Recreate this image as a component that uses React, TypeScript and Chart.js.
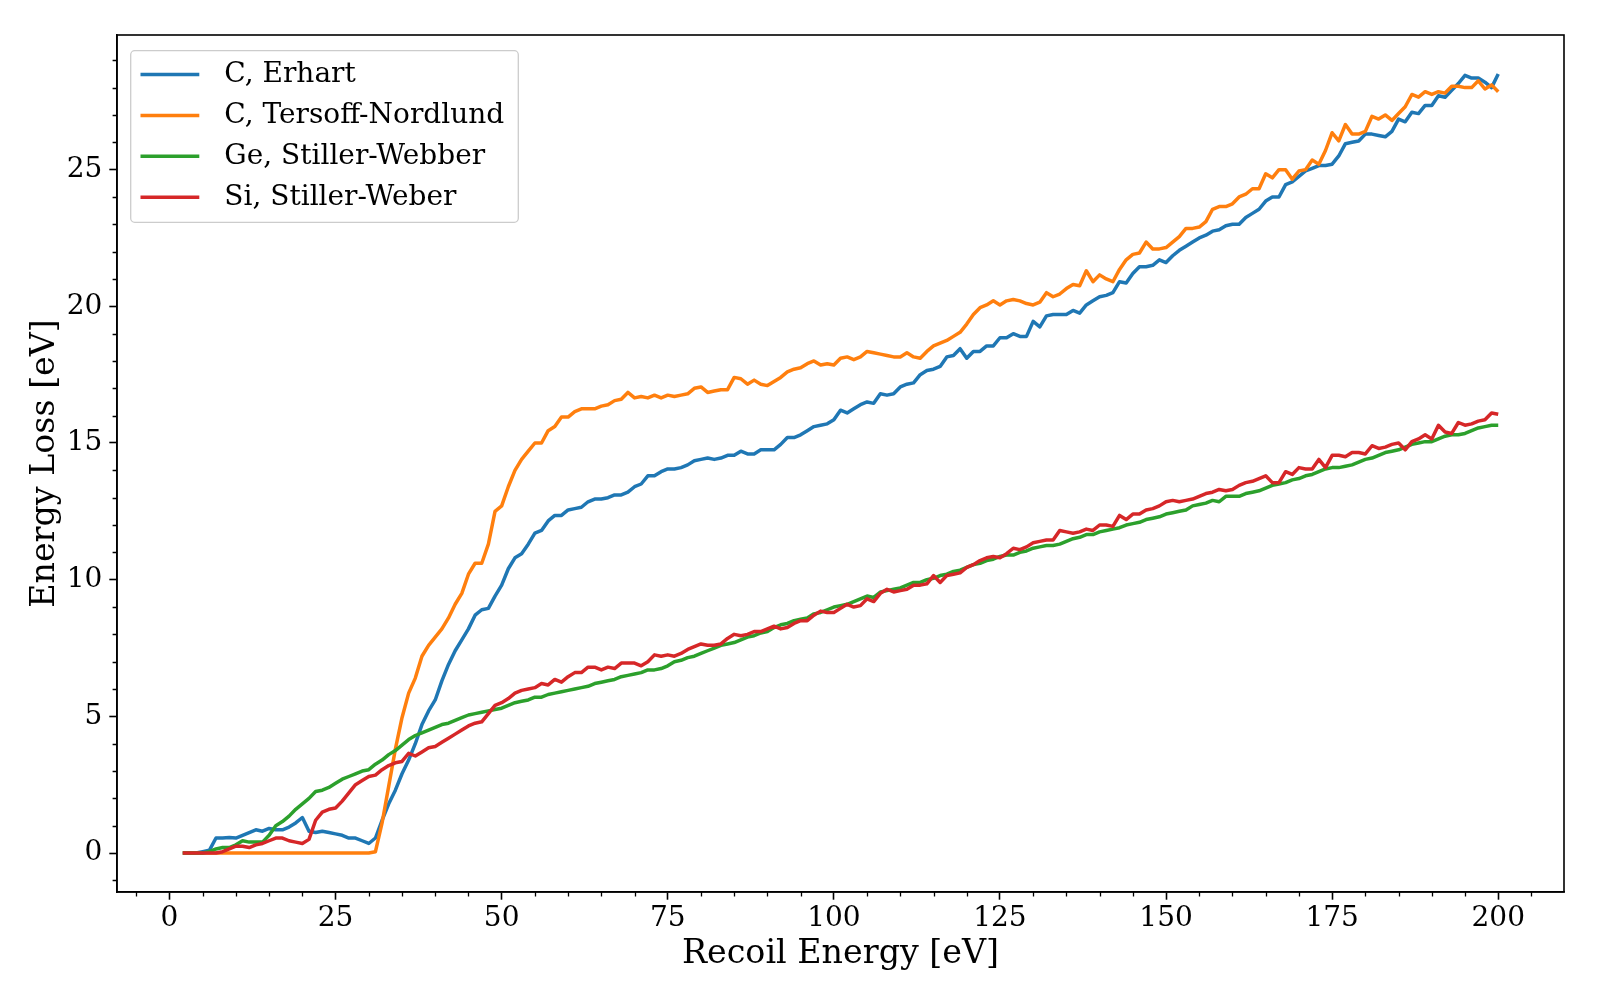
import { useEffect, useRef } from 'react';
import { Chart, registerables } from 'chart.js';

Chart.register(...registerables);

const FONT = '"DejaVu Serif", serif';

const recoilEnergy = [
  2, 3, 4, 5, 6, 7, 8, 9,
  10, 11, 12, 13, 14, 15, 16, 17, 18, 19,
  20, 21, 22, 23, 24, 25, 26, 27, 28, 29,
  30, 31, 32, 33, 34, 35, 36, 37, 38, 39,
  40, 41, 42, 43, 44, 45, 46, 47, 48, 49,
  50, 51, 52, 53, 54, 55, 56, 57, 58, 59,
  60, 61, 62, 63, 64, 65, 66, 67, 68, 69,
  70, 71, 72, 73, 74, 75, 76, 77, 78, 79,
  80, 81, 82, 83, 84, 85, 86, 87, 88, 89,
  90, 91, 92, 93, 94, 95, 96, 97, 98, 99,
  100, 101, 102, 103, 104, 105, 106, 107, 108, 109,
  110, 111, 112, 113, 114, 115, 116, 117, 118, 119,
  120, 121, 122, 123, 124, 125, 126, 127, 128, 129,
  130, 131, 132, 133, 134, 135, 136, 137, 138, 139,
  140, 141, 142, 143, 144, 145, 146, 147, 148, 149,
  150, 151, 152, 153, 154, 155, 156, 157, 158, 159,
  160, 161, 162, 163, 164, 165, 166, 167, 168, 169,
  170, 171, 172, 173, 174, 175, 176, 177, 178, 179,
  180, 181, 182, 183, 184, 185, 186, 187, 188, 189,
  190, 191, 192, 193, 194, 195, 196, 197, 198, 199,
  200,
];

const cErhart = [
  0, 0, 0, 0.05, 0.1, 0.55, 0.55, 0.57,
  0.55, 0.65, 0.75, 0.85, 0.8, 0.9, 0.85, 0.85, 0.95, 1.1,
  1.3, 0.8, 0.75, 0.8, 0.75, 0.7, 0.65, 0.55, 0.55, 0.45,
  0.35, 0.55, 1.2, 1.8, 2.3, 2.9, 3.4, 4.0, 4.7, 5.2,
  5.6, 6.3, 6.9, 7.4, 7.8, 8.2, 8.7, 8.9, 8.95, 9.4,
  9.8, 10.4, 10.8, 10.95, 11.3, 11.7, 11.8, 12.15, 12.35, 12.35,
  12.55, 12.6, 12.65, 12.85, 12.95, 12.95, 13.0, 13.1, 13.1, 13.2,
  13.4, 13.5, 13.8, 13.8, 13.95, 14.05, 14.05, 14.1, 14.2, 14.35,
  14.4, 14.45, 14.4, 14.45, 14.55, 14.55, 14.7, 14.6, 14.6, 14.75,
  14.75, 14.75, 14.95, 15.2, 15.2, 15.3, 15.45, 15.6, 15.65, 15.7,
  15.85, 16.2, 16.1, 16.25, 16.4, 16.5, 16.45, 16.8, 16.75, 16.8,
  17.05, 17.15, 17.2, 17.5, 17.65, 17.7, 17.8, 18.15, 18.2, 18.45,
  18.1, 18.35, 18.35, 18.55, 18.55, 18.85, 18.85, 19.0, 18.9, 18.9,
  19.45, 19.25, 19.65, 19.7, 19.7, 19.7, 19.85, 19.75, 20.05, 20.2,
  20.35, 20.4, 20.5, 20.9, 20.85, 21.2, 21.45, 21.45, 21.5, 21.7,
  21.6, 21.85, 22.05, 22.2, 22.35, 22.5, 22.6, 22.75, 22.8, 22.95,
  23.0, 23.0, 23.25, 23.4, 23.55, 23.85, 24.0, 24.0, 24.45, 24.55,
  24.75, 24.95, 25.05, 25.15, 25.15, 25.2, 25.5, 25.95, 26.0, 26.05,
  26.3, 26.3, 26.25, 26.2, 26.4, 26.85, 26.75, 27.1, 27.05, 27.35,
  27.35, 27.7, 27.65, 27.9, 28.15, 28.45, 28.35, 28.35, 28.2, 28.0,
  28.5,
];

const cTersoffNordlund = [
  0, 0, 0, 0, 0, 0, 0, 0,
  0, 0, 0, 0, 0, 0, 0, 0, 0, 0,
  0, 0, 0, 0, 0, 0, 0, 0, 0, 0,
  0, 0.05, 1.1, 2.45, 3.8, 4.95, 5.85, 6.4, 7.2, 7.6,
  7.9, 8.2, 8.6, 9.1, 9.5, 10.2, 10.6, 10.6, 11.3, 12.5,
  12.7, 13.4, 14.0, 14.4, 14.7, 15.0, 15.0, 15.45, 15.6, 15.95,
  15.95, 16.15, 16.25, 16.25, 16.25, 16.35, 16.4, 16.55, 16.6, 16.85,
  16.65, 16.7, 16.65, 16.75, 16.65, 16.75, 16.7, 16.75, 16.8, 17.0,
  17.05, 16.85, 16.9, 16.95, 16.95, 17.4, 17.35, 17.15, 17.3, 17.15,
  17.1, 17.25, 17.4, 17.6, 17.7, 17.75, 17.9, 18.0, 17.85, 17.9,
  17.85, 18.1, 18.15, 18.05, 18.15, 18.35, 18.3, 18.25, 18.2, 18.15,
  18.15, 18.3, 18.15, 18.1, 18.35, 18.55, 18.65, 18.75, 18.9, 19.05,
  19.35, 19.7, 19.95, 20.05, 20.2, 20.05, 20.2, 20.25, 20.2, 20.1,
  20.05, 20.15, 20.5, 20.35, 20.45, 20.65, 20.8, 20.75, 21.3, 20.9,
  21.15, 21.0, 20.9, 21.35, 21.7, 21.9, 21.95, 22.35, 22.1, 22.1,
  22.15, 22.35, 22.55, 22.85, 22.85, 22.9, 23.1, 23.55, 23.65, 23.65,
  23.75, 24.0, 24.1, 24.3, 24.3, 24.85, 24.7, 25.0, 25.0, 24.65,
  24.95, 25.0, 25.35, 25.2, 25.7, 26.35, 26.05, 26.65, 26.3, 26.3,
  26.4, 26.95, 26.85, 27.0, 26.8, 27.05, 27.3, 27.75, 27.65, 27.85,
  27.75, 27.85, 27.8, 28.05, 28.05, 28.0, 28.0, 28.25, 27.95, 28.1,
  27.85,
];

const geStillerWebber = [
  0, 0, 0, 0, 0.05, 0.15, 0.2, 0.2,
  0.3, 0.45, 0.4, 0.4, 0.4, 0.65, 1.0, 1.15, 1.35, 1.6,
  1.8, 2.0, 2.25, 2.3, 2.4, 2.55, 2.7, 2.8, 2.9, 3.0,
  3.05, 3.25, 3.4, 3.6, 3.75, 3.95, 4.15, 4.3, 4.4, 4.5,
  4.6, 4.7, 4.75, 4.85, 4.95, 5.05, 5.1, 5.15, 5.2, 5.25,
  5.3, 5.4, 5.5, 5.55, 5.6, 5.7, 5.7, 5.8, 5.85, 5.9,
  5.95, 6.0, 6.05, 6.1, 6.2, 6.25, 6.3, 6.35, 6.45, 6.5,
  6.55, 6.6, 6.7, 6.7, 6.75, 6.85, 7.0, 7.05, 7.15, 7.2,
  7.3, 7.4, 7.5, 7.6, 7.65, 7.7, 7.8, 7.9, 7.95, 8.05,
  8.1, 8.25, 8.35, 8.4, 8.5, 8.55, 8.6, 8.75, 8.8, 8.9,
  9.0, 9.05, 9.1, 9.2, 9.3, 9.4, 9.35, 9.55, 9.6, 9.65,
  9.7, 9.8, 9.9, 9.9, 10.0, 10.05, 10.15, 10.2, 10.3, 10.35,
  10.45, 10.55, 10.6, 10.7, 10.75, 10.85, 10.9, 10.9, 11.0, 11.05,
  11.15, 11.2, 11.25, 11.25, 11.3, 11.4, 11.5, 11.55, 11.65, 11.65,
  11.75, 11.8, 11.85, 11.9, 12.0, 12.05, 12.1, 12.2, 12.25, 12.3,
  12.4, 12.45, 12.5, 12.55, 12.7, 12.75, 12.8, 12.9, 12.85, 13.05,
  13.05, 13.05, 13.15, 13.2, 13.25, 13.35, 13.45, 13.5, 13.55, 13.65,
  13.7, 13.8, 13.85, 13.95, 14.05, 14.1, 14.1, 14.15, 14.2, 14.3,
  14.4, 14.45, 14.55, 14.65, 14.7, 14.75, 14.85, 14.95, 15.0, 15.05,
  15.05, 15.15, 15.25, 15.3, 15.3, 15.35, 15.45, 15.55, 15.6, 15.65,
  15.65,
];

const siStillerWeber = [
  0, 0, 0, 0, 0, 0, 0.05, 0.15,
  0.25, 0.25, 0.2, 0.3, 0.35, 0.45, 0.55, 0.55, 0.45, 0.4,
  0.35, 0.5, 1.2, 1.5, 1.6, 1.65, 1.9, 2.2, 2.5, 2.65,
  2.8, 2.85, 3.05, 3.2, 3.3, 3.35, 3.65, 3.55, 3.7, 3.85,
  3.9, 4.05, 4.2, 4.35, 4.5, 4.65, 4.75, 4.8, 5.1, 5.4,
  5.5, 5.65, 5.85, 5.95, 6.0, 6.05, 6.2, 6.15, 6.35, 6.25,
  6.45, 6.6, 6.6, 6.8, 6.8, 6.7, 6.8, 6.75, 6.95, 6.95,
  6.95, 6.85, 7.0, 7.25, 7.2, 7.25, 7.2, 7.3, 7.45, 7.55,
  7.65, 7.6, 7.6, 7.65, 7.85, 8.0, 7.95, 8.0, 8.1, 8.1,
  8.2, 8.3, 8.2, 8.25, 8.4, 8.5, 8.5, 8.7, 8.85, 8.8,
  8.8, 8.95, 9.1, 9.0, 9.05, 9.3, 9.2, 9.5, 9.65, 9.55,
  9.6, 9.65, 9.8, 9.8, 9.85, 10.15, 9.9, 10.15, 10.2, 10.25,
  10.45, 10.55, 10.7, 10.8, 10.85, 10.8, 10.95, 11.15, 11.1, 11.2,
  11.35, 11.4, 11.45, 11.45, 11.8, 11.75, 11.7, 11.75, 11.85, 11.8,
  12.0, 12.0, 11.95, 12.35, 12.2, 12.4, 12.4, 12.55, 12.6, 12.7,
  12.85, 12.9, 12.85, 12.9, 12.95, 13.05, 13.15, 13.2, 13.3, 13.25,
  13.3, 13.45, 13.55, 13.6, 13.7, 13.8, 13.55, 13.55, 13.95, 13.85,
  14.1, 14.05, 14.05, 14.4, 14.1, 14.55, 14.55, 14.5, 14.65, 14.65,
  14.6, 14.9, 14.8, 14.85, 14.95, 15.0, 14.75, 15.05, 15.15, 15.3,
  15.15, 15.65, 15.4, 15.35, 15.75, 15.65, 15.7, 15.8, 15.85, 16.1,
  16.05,
];

const seriesLabels = ['C, Erhart', 'C, Tersoff-Nordlund', 'Ge, Stiller-Webber', 'Si, Stiller-Weber'];
const seriesColors = ['#1f77b4', '#ff7f0e', '#2ca02c', '#d62728'];
const xTickValues = [0, 25, 50, 75, 100, 125, 150, 175, 200];
const yTickValues = [0, 5, 10, 15, 20, 25];
const xMinorTicks = [-5, 5, 10, 15, 20, 30, 35, 40, 45, 55, 60, 65, 70, 80, 85, 90, 95, 105, 110, 115, 120, 130, 135, 140, 145, 155, 160, 165, 170, 180, 185, 190, 195, 205];
const yMinorTicks = [-1, 1, 2, 3, 4, 6, 7, 8, 9, 11, 12, 13, 14, 16, 17, 18, 19, 21, 22, 23, 24, 26, 27, 28, 29];

const frameAndExtras = {
  id: 'frameAndExtras',
  afterDraw(chart: any) {
    const { ctx, chartArea } = chart;
    const xs = chart.scales.x;
    const ys = chart.scales.y;
    ctx.save();
    ctx.strokeStyle = '#000';
    ctx.lineWidth = 1.6;
    ctx.strokeRect(chartArea.left, chartArea.top, chartArea.right - chartArea.left, chartArea.bottom - chartArea.top);
    ctx.lineWidth = 1.3;
    ctx.beginPath();
    xMinorTicks.forEach((v) => {
      if (v < xs.min || v > xs.max) return;
      const px = Math.round(xs.getPixelForValue(v)) + 0.5;
      ctx.moveTo(px, chartArea.bottom);
      ctx.lineTo(px, chartArea.bottom + 4.4);
    });
    yMinorTicks.forEach((v) => {
      if (v < ys.min || v > ys.max) return;
      const py = Math.round(ys.getPixelForValue(v)) + 0.5;
      ctx.moveTo(chartArea.left, py);
      ctx.lineTo(chartArea.left - 4.4, py);
    });
    ctx.stroke();

    // legend
    const bx = 130.7, by = 50.7, bw = 387.6, bh = 171.6;
    ctx.beginPath();
    ctx.roundRect(bx, by, bw, bh, 4);
    ctx.fillStyle = 'rgba(255,255,255,0.8)';
    ctx.fill();
    ctx.strokeStyle = '#cccccc';
    ctx.lineWidth = 1.3;
    ctx.stroke();
    ctx.font = `28px ${FONT}`;
    ctx.textBaseline = 'middle';
    ctx.textAlign = 'left';
    chart.data.datasets.forEach((ds: any, i: number) => {
      const ry = 74.5 + i * 40.9;
      ctx.strokeStyle = ds.borderColor;
      ctx.lineWidth = 3.5;
      ctx.beginPath();
      ctx.moveTo(140.5, ry);
      ctx.lineTo(199.3, ry);
      ctx.stroke();
      ctx.fillStyle = '#000';
      ctx.fillText(ds.label, 224.3, ry + 0.5);
    });
    ctx.restore();
  },
};

export default function App() {
  const ref = useRef<HTMLCanvasElement | null>(null);
  useEffect(() => {
    document.body.style.margin = '0';
    const canvas = ref.current;
    if (!canvas) return;
    const all = [cErhart, cTersoffNordlund, geStillerWebber, siStillerWeber];
    const datasets = all.map((vals, i) => ({
      label: seriesLabels[i],
      data: recoilEnergy.map((e, j) => ({ x: e, y: vals[j] })),
      borderColor: seriesColors[i],
      backgroundColor: seriesColors[i],
      borderWidth: 3.5,
      pointRadius: 0,
      tension: 0,
      fill: false,
      borderJoinStyle: 'round' as const,
      order: 4 - i,
    }));
    const chart = new Chart(canvas, {
      type: 'line',
      data: { datasets },
      plugins: [frameAndExtras],
      options: {
        animation: false,
        responsive: false,
        devicePixelRatio: 1,
        layout: { padding: { left: 0, right: 36, top: 35, bottom: 0 } },
        plugins: { legend: { display: false }, tooltip: { enabled: false } },
        scales: {
          x: {
            type: 'linear',
            min: -7.9,
            max: 209.9,
            afterBuildTicks: (s: any) => {
              s.ticks = xTickValues.map((v) => ({ value: v }));
            },
            afterFit: (s: any) => {
              s.height = 108;
            },
            ticks: {
              font: { family: FONT, size: 28 },
              color: '#000',
              padding: 2,
              maxRotation: 0,
              autoSkip: false,
              callback: (v: any) => String(v),
            },
            grid: { display: true, drawOnChartArea: false, drawTicks: true, tickLength: 7.7, tickWidth: 1.6, tickColor: '#000' },
            border: { display: true, color: '#000', width: 1.6 },
            title: {
              display: true,
              text: 'Recoil Energy [eV]',
              font: { family: FONT, size: 33.3 },
              color: '#000',
              padding: { top: 0, bottom: 26 },
            },
          },
          y: {
            type: 'linear',
            min: -1.425,
            max: 29.925,
            afterBuildTicks: (s: any) => {
              s.ticks = yTickValues.map((v) => ({ value: v }));
            },
            afterFit: (s: any) => {
              s.width = 117;
            },
            ticks: {
              font: { family: FONT, size: 28 },
              color: '#000',
              padding: 7,
              autoSkip: false,
              callback: (v: any) => String(v),
            },
            grid: { display: true, drawOnChartArea: false, drawTicks: true, tickLength: 7.7, tickWidth: 1.6, tickColor: '#000' },
            border: { display: true, color: '#000', width: 1.6 },
            title: {
              display: true,
              text: 'Energy Loss [eV]',
              font: { family: FONT, size: 33.3 },
              color: '#000',
              padding: { top: 25, bottom: 0 },
            },
          },
        },
      },
    });
    return () => chart.destroy();
  }, []);
  return (
    <div style={{ width: 1600, height: 1000, position: 'relative', background: '#fff' }}>
      <canvas ref={ref} width={1600} height={1000} style={{ width: 1600, height: 1000, display: 'block' }} />
    </div>
  );
}
